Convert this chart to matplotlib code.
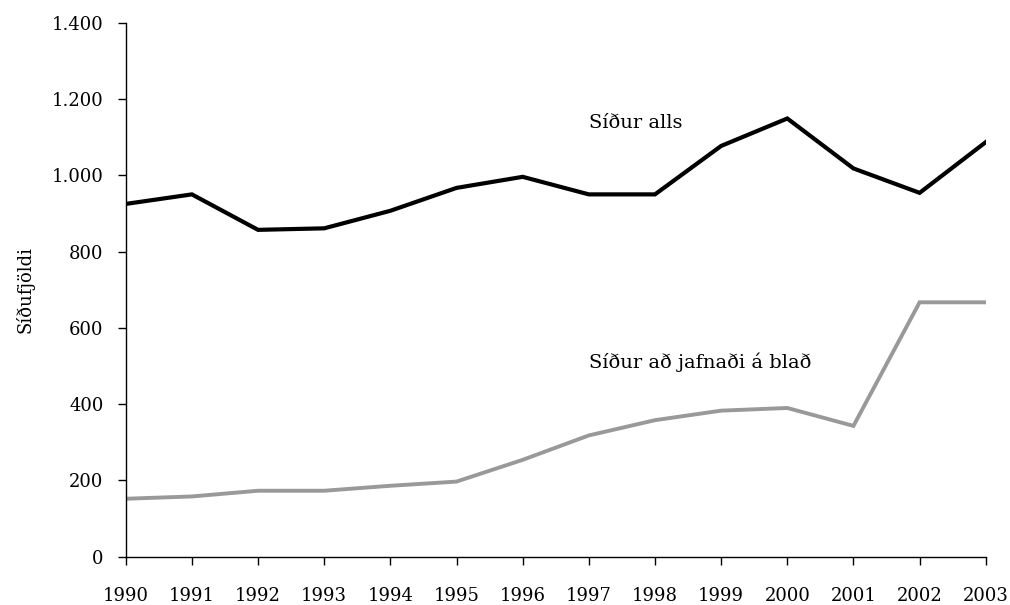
import matplotlib
matplotlib.use("Agg")
import matplotlib.pyplot as plt
from matplotlib.ticker import FuncFormatter

plt.rcParams["font.family"] = ["DejaVu Serif"]

years = list(range(1990, 2004))
sidur_alls = [925, 950, 857, 861, 907, 967, 996, 950, 950, 1077, 1149, 1018, 954, 1087]
sidur_blad = [152, 158, 173, 173, 186, 197, 254, 318, 358, 383, 390, 343, 667, 667]

label_alls = "Síður alls"
label_blad = "Síður að jafnaði á blað"
ylabel = "Síðufjöldi"

fig = plt.figure(figsize=(10.1, 6.05), dpi=100)
ax = fig.add_axes([0.1245, 0.0798, 0.8515, 0.8826])

ax.plot(years, sidur_alls, color="black", lw=3.0, solid_joinstyle="miter")
ax.plot(years, sidur_blad, color="#999999", lw=2.8, solid_joinstyle="miter")

ax.text(1997.0, 1138, label_alls, fontsize=14, va="center", ha="left")
ax.text(1997.0, 511, label_blad, fontsize=14, va="center", ha="left")

ax.set_xlim(1990, 2003)
ax.set_ylim(0, 1400)
ax.set_xticks(years)
ax.set_yticks(range(0, 1401, 200))
ax.yaxis.set_major_formatter(FuncFormatter(lambda v, p: f"{int(v):,}".replace(",", ".")))

for s in ["top", "right"]:
    ax.spines[s].set_visible(False)
for s in ["left", "bottom"]:
    ax.spines[s].set_linewidth(1.0)

ax.tick_params(axis="y", direction="out", length=6, width=1, pad=10, labelsize=13)
ax.tick_params(axis="x", direction="out", length=5.5, width=1, pad=16, labelsize=13)

ax.set_ylabel(ylabel, fontsize=13, labelpad=12)

fig.savefig("out.png", dpi=100)
